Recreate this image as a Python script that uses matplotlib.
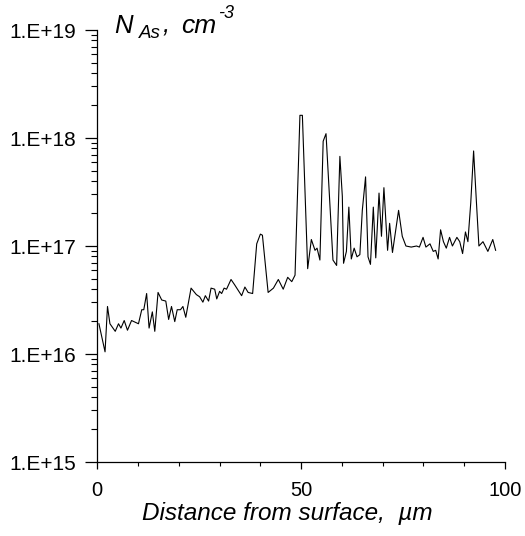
import numpy as np
import matplotlib
matplotlib.use("Agg")
import matplotlib.pyplot as plt
from matplotlib.ticker import FuncFormatter, MultipleLocator, LogLocator, NullFormatter

plt.rcParams['font.family'] = ['Liberation Sans', 'DejaVu Sans']

# distance from surface (um) and log10 of As concentration (cm^-3)
depth = [0.4, 1.9, 2.5, 3.1, 4.4, 5.2, 5.8, 6.6, 7.4, 8.4, 10.1, 10.9, 11.4, 12.1, 12.7,
         13.5, 14.1, 14.9, 15.8, 16.8, 17.5, 18.2, 19.0, 19.6, 20.4, 21.0, 21.7, 23.0,
         24.3, 25.1, 25.9, 26.5, 27.3, 27.9, 28.8, 29.3, 30.0, 30.5, 31.1, 31.7, 32.8,
         33.7, 35.4, 36.2, 37.0, 38.1, 39.1, 40.0, 40.5, 41.9, 43.2, 44.4, 45.6, 46.7,
         47.7, 48.5, 49.7, 50.3, 51.6, 52.5, 53.4, 53.9, 54.6, 55.4, 56.1, 57.8, 58.7,
         59.5, 60.1, 60.4, 61.1, 61.7, 62.3, 63.0, 63.7, 64.4, 65.0, 65.8, 66.4, 67.0,
         67.7, 68.3, 69.1, 69.7, 70.3, 71.2, 71.7, 72.4, 73.9, 74.8, 75.7, 77.0, 78.3,
         79.0, 79.9, 80.6, 81.6, 82.4, 83.0, 83.6, 84.2, 84.9, 85.6, 86.4, 87.1, 88.2,
         88.9, 89.6, 90.3, 90.9, 91.6, 92.3, 93.0, 93.6, 94.6, 95.8, 97.0, 97.7]
log_n = [16.28, 16.02, 16.44, 16.28, 16.21, 16.28, 16.24, 16.31, 16.22, 16.31, 16.28, 16.41,
         16.41, 16.56, 16.24, 16.39, 16.21, 16.57, 16.50, 16.49, 16.32, 16.44, 16.30, 16.41,
         16.41, 16.44, 16.34, 16.61, 16.55, 16.53, 16.48, 16.54, 16.49, 16.61, 16.60, 16.51,
         16.58, 16.56, 16.61, 16.60, 16.69, 16.64, 16.54, 16.62, 16.57, 16.56, 17.02, 17.11,
         17.10, 16.57, 16.61, 16.69, 16.60, 16.71, 16.67, 16.73, 18.21, 18.21, 16.79, 17.06,
         16.96, 16.98, 16.87, 17.97, 18.04, 16.87, 16.82, 17.83, 17.46, 16.84, 16.95, 17.36,
         16.88, 16.98, 16.90, 16.92, 17.33, 17.64, 16.90, 16.83, 17.36, 16.89, 17.49, 17.09,
         17.54, 16.96, 17.21, 16.94, 17.33, 17.09, 17.00, 16.99, 17.00, 16.99, 17.08, 16.99,
         17.02, 16.95, 16.96, 16.88, 17.15, 17.04, 16.98, 17.08, 17.00, 17.08, 17.04, 16.93,
         17.13, 17.04, 17.40, 17.88, 17.40, 17.00, 17.04, 16.95, 17.06, 16.96]
conc = 10 ** np.array(log_n)

W, H = 525, 536
fig = plt.figure(figsize=(W / 100, H / 100), dpi=100)
ax = fig.add_axes([97.3 / W, 1 - 462 / H, (505 - 97.3) / W, (462 - 30) / H])

ax.plot(depth, conc, color='black', linewidth=0.8)

ax.set_yscale('log')
ax.set_ylim(1e15, 1e19)
ax.set_xlim(0, 100)

ax.spines['top'].set_visible(False)
ax.spines['right'].set_visible(False)
ax.spines['left'].set_linewidth(0.9)
ax.spines['bottom'].set_linewidth(0.9)

ax.xaxis.set_major_locator(MultipleLocator(50))
ax.xaxis.set_minor_locator(MultipleLocator(10))
ax.yaxis.set_major_locator(LogLocator(base=10, numticks=10))
ax.yaxis.set_minor_locator(LogLocator(base=10, subs=np.arange(2, 10), numticks=10))
ax.yaxis.set_minor_formatter(NullFormatter())
ax.yaxis.set_major_formatter(FuncFormatter(lambda v, p: f"1.E+{int(round(np.log10(v)))}"))

ax.tick_params(axis='y', which='major', direction='out', length=9, width=0.9,
               labelsize=15, pad=6)
ax.tick_params(axis='y', which='minor', direction='out', length=4, width=0.8)
ax.tick_params(axis='x', which='major', direction='out', length=5, width=0.9,
               labelsize=14.5, pad=9)
ax.tick_params(axis='x', which='minor', direction='out', length=3, width=0.8)

ax.set_xlabel("Distance from surface,  \u00b5m", fontsize=17.5, style='italic')
ax.xaxis.set_label_coords(0.467, -0.092)
ax.xaxis.label.set_va('top')

# y-axis title pieces: N_As , cm^-3
def px_text(x, y, s, size):
    fig.text(x / W, 1 - y / H, s, fontsize=size, style='italic', va='baseline', ha='left')

px_text(114, 33, "N", 18.5)
px_text(139, 38, "As", 13.5)
px_text(163, 33, ",", 18.5)
px_text(181, 33, "cm", 19)
px_text(218, 18, "-3", 13)

fig.savefig("out.png", dpi=100)
